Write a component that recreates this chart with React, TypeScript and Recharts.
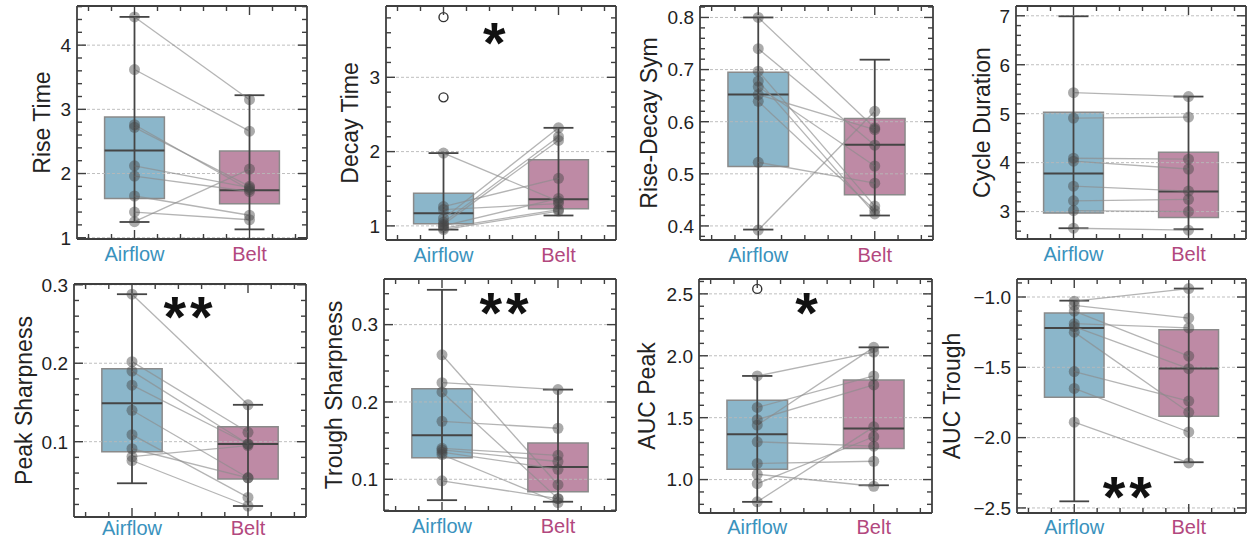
import React from 'react';
import {
  ComposedChart,
  Line,
  XAxis,
  YAxis,
  ReferenceLine,
  ReferenceArea,
  ReferenceDot,
} from 'recharts';

const FONT = '"Liberation Sans", Arial, Helvetica, sans-serif';
const AIR_TEXT = '#3a92bd';
const BELT_TEXT = '#b2487e';
const AIR_FILL = '#5a97b4';
const BELT_FILL = '#a3587f';
const FRAME = '#3f3f3f';

const groups = ['Airflow', 'Belt'];
const groupX = [0, 1];
const xTicks = [-0.4, -0.2, 0, 0.2, 0.4, 0.6, 0.8, 1, 1.2, 1.4];

// box stats: [whiskerLow, q1, median, q3, whiskerHigh]
const riseAirflow = [4.44, 3.62, 2.76, 2.72, 2.12, 1.96, 1.65, 1.4, 1.25];
const riseBelt = [3.15, 2.66, 1.75, 1.8, 1.78, 1.72, 1.35, 1.28, 2.07];
const riseAirflowBox = [1.245, 1.61, 2.36, 2.88, 4.44];
const riseBeltBox = [1.13, 1.53, 1.74, 2.35, 3.22];

const decayAirflow = [1.98, 1.26, 1.22, 1.1, 1.05, 1.02, 1.0, 0.97, 0.95];
const decayBelt = [1.33, 1.64, 1.3, 2.32, 2.2, 2.15, 1.37, 1.22, 1.2];
const decayAirflowBox = [0.95, 1.03, 1.17, 1.44, 1.98];
const decayBeltBox = [1.14, 1.23, 1.36, 1.89, 2.32];
const decayOutliers = [3.81, 2.73];

const symAirflow = [0.8, 0.74, 0.697, 0.678, 0.667, 0.652, 0.639, 0.522, 0.392];
const symBelt = [0.588, 0.555, 0.438, 0.423, 0.515, 0.585, 0.43, 0.482, 0.62];
const symAirflowBox = [0.393, 0.514, 0.652, 0.695, 0.8];
const symBeltBox = [0.42, 0.46, 0.556, 0.606, 0.719];

const cycleAirflow = [5.43, 4.91, 4.09, 4.03, 3.52, 3.22, 3.02, 2.66];
const cycleBelt = [5.35, 4.93, 4.07, 3.87, 3.42, 3.25, 3.0, 2.62];
const cycleAirflowBox = [2.66, 2.97, 3.78, 5.03, 6.99];
const cycleBeltBox = [2.64, 2.88, 3.41, 4.21, 5.35];

const peakAirflow = [0.288, 0.202, 0.19, 0.172, 0.14, 0.109, 0.091, 0.081, 0.076];
const peakBelt = [0.147, 0.112, 0.097, 0.097, 0.054, 0.029, 0.054, 0.095, 0.018];
const peakAirflowBox = [0.047, 0.0872, 0.149, 0.193, 0.288];
const peakBeltBox = [0.018, 0.0524, 0.097, 0.119, 0.147];

const troughAirflow = [0.261, 0.225, 0.213, 0.175, 0.14, 0.138, 0.135, 0.132, 0.098];
const troughBelt = [0.093, 0.216, 0.075, 0.166, 0.131, 0.123, 0.113, 0.07, 0.075];
const troughAirflowBox = [0.073, 0.128, 0.157, 0.217, 0.345];
const troughBeltBox = [0.071, 0.084, 0.116, 0.147, 0.216];

const aucPeakAirflow = [1.837, 1.583, 1.484, 1.44, 1.305, 1.13, 1.043, 0.967, 0.82];
const aucPeakBelt = [2.03, 1.837, 1.764, 2.068, 1.27, 1.148, 0.946, 1.346, 1.426];
const aucPeakAirflowBox = [0.82, 1.083, 1.367, 1.64, 1.837];
const aucPeakBeltBox = [0.954, 1.251, 1.413, 1.805, 2.068];
const aucPeakOutliers = [2.54];

const aucTroughAirflow = [-1.03, -1.06, -1.1, -1.19, -1.21, -1.25, -1.53, -1.65, -1.89];
const aucTroughBelt = [-0.94, -1.15, -1.42, -1.22, -1.51, -1.82, -1.74, -1.96, -2.18];
const aucTroughAirflowBox = [-2.453, -1.713, -1.221, -1.114, -1.026];
const aucTroughBeltBox = [-2.175, -1.848, -1.509, -1.233, -0.94];

type Cfg = {
  label: string;
  airflow: number[];
  belt: number[];
  airBox: number[];
  beltBox: number[];
  outliers: number[];
  domain: [number, number];
  major: number;
  minor: number;
  dec: number;
  frame: { l: number; t: number; r: number; b: number };
  yW: number;
  labelGap: number;
  xLabelGap: number;
  star?: { text: string; x: number; y: number };
};

const panels: Cfg[] = [
  { label: 'Rise Time', airflow: riseAirflow, belt: riseBelt, airBox: riseAirflowBox, beltBox: riseBeltBox, outliers: [], domain: [0.98, 4.61], major: 1, minor: 0.2, dec: 0, frame: { l: 77, t: 6, r: 307, b: 239 }, yW: 77, labelGap: 27, xLabelGap: 22 },
  { label: 'Decay Time', airflow: decayAirflow, belt: decayBelt, airBox: decayAirflowBox, beltBox: decayBeltBox, outliers: decayOutliers, domain: [0.81, 3.96], major: 1, minor: 0.2, dec: 0, frame: { l: 386, t: 6, r: 616, b: 240 }, yW: 85, labelGap: 28, xLabelGap: 22, star: { text: '*', x: 0.46, y: 3.6 } },
  { label: 'Rise-Decay Sym', airflow: symAirflow, belt: symBelt, airBox: symAirflowBox, beltBox: symBeltBox, outliers: [], domain: [0.373, 0.822], major: 0.1, minor: 0.02, dec: 1, frame: { l: 700, t: 6, r: 933, b: 240 }, yW: 85, labelGap: 43, xLabelGap: 22 },
  { label: 'Cycle Duration', airflow: cycleAirflow, belt: cycleBelt, airBox: cycleAirflowBox, beltBox: cycleBeltBox, outliers: [], domain: [2.44, 7.2], major: 1, minor: 0.2, dec: 0, frame: { l: 1016, t: 6, r: 1246, b: 239 }, yW: 85, labelGap: 26, xLabelGap: 22 },
  { label: 'Peak Sharpness', airflow: peakAirflow, belt: peakBelt, airBox: peakAirflowBox, beltBox: peakBeltBox, outliers: [], domain: [0.004, 0.301], major: 0.1, minor: 0.02, dec: 1, frame: { l: 74, t: 284, r: 306, b: 517 }, yW: 74, labelGap: 42, xLabelGap: 18, star: { text: '**', x: 0.5, y: 0.272 } },
  { label: 'Trough Sharpness', airflow: troughAirflow, belt: troughBelt, airBox: troughAirflowBox, beltBox: troughBeltBox, outliers: [], domain: [0.059, 0.359], major: 0.1, minor: 0.02, dec: 1, frame: { l: 384, t: 279, r: 616, b: 511 }, yW: 85, labelGap: 42, xLabelGap: 22, star: { text: '**', x: 0.552, y: 0.328 } },
  { label: 'AUC Peak', airflow: aucPeakAirflow, belt: aucPeakBelt, airBox: aucPeakAirflowBox, beltBox: aucPeakBeltBox, outliers: aucPeakOutliers, domain: [0.73, 2.62], major: 0.5, minor: 0.1, dec: 1, frame: { l: 699, t: 279, r: 932, b: 513 }, yW: 85, labelGap: 44, xLabelGap: 21, star: { text: '*', x: 0.44, y: 2.428 } },
  { label: 'AUC Trough', airflow: aucTroughAirflow, belt: aucTroughBelt, airBox: aucTroughAirflowBox, beltBox: aucTroughBeltBox, outliers: [], domain: [-2.536, -0.872], major: 0.5, minor: 0.1, dec: 1, frame: { l: 1017, t: 279, r: 1246, b: 513 }, yW: 85, labelGap: 57, xLabelGap: 21, star: { text: '**', x: 0.48, y: -2.349 } },
];

function makeTicks(domain: [number, number], step: number): number[] {
  const out: number[] = [];
  let k = Math.ceil(domain[0] / step - 1e-9);
  while (k * step <= domain[1] + 1e-9) {
    out.push(Math.round(k * step * 10000) / 10000);
    k++;
  }
  return out;
}

function isMajor(v: number, major: number) {
  const r = v / major;
  return Math.abs(r - Math.round(r)) < 1e-6;
}

function fmt(v: number, dec: number) {
  const s = Math.abs(v).toFixed(dec);
  return v < 0 ? '\u2212' + s : s;
}

const HALF_BOX = 0.26;
const HALF_CAP = 0.13;
const WHISK = '#454545';
const TOP = 14;

function Panel({ cfg }: { cfg: Cfg }) {
  const { frame, yW } = cfg;
  const fw = frame.r - frame.l;
  const fh = frame.b - frame.t;
  const W = yW + fw + 5;
  const H = TOP + 1 + fh + 34;
  const data = groupX.map((x, gi) => {
    const row: any = { x };
    const vals = gi === 0 ? cfg.airflow : cfg.belt;
    vals.forEach((v, i) => {
      row['s' + i] = v;
    });
    return row;
  });
  const yTicks = makeTicks(cfg.domain, cfg.minor);
  const majors = yTicks.filter((v) => isMajor(v, cfg.major));

  const yTickLeft = (p: any) => {
    const v = p.payload.value;
    const mj = isMajor(v, cfg.major);
    return (
      <g>
        <line x1={p.x} x2={p.x + (mj ? 9 : 5)} y1={p.y} y2={p.y} stroke={FRAME} strokeWidth={1.4} />
        {mj && (
          <text x={p.x - 6} y={p.y} dy="0.36em" textAnchor="end" fontSize={19} fontFamily={FONT} fill="#222">
            {fmt(v, cfg.dec)}
          </text>
        )}
      </g>
    );
  };
  const yTickRight = (p: any) => {
    const v = p.payload.value;
    const mj = isMajor(v, cfg.major);
    return <line x1={p.x} x2={p.x - (mj ? 9 : 5)} y1={p.y} y2={p.y} stroke={FRAME} strokeWidth={1.4} />;
  };
  const xTickBottom = (p: any) => {
    const v = p.payload.value;
    const mj = v === 0 || v === 1;
    return (
      <g>
        <line x1={p.x} x2={p.x} y1={p.y} y2={p.y - (mj ? 9 : 5)} stroke={FRAME} strokeWidth={1.4} />
        {mj && (
          <text x={p.x} y={p.y + cfg.xLabelGap} textAnchor="middle" fontSize={20} fontFamily={FONT} fill={v === 0 ? AIR_TEXT : BELT_TEXT}>
            {groups[v]}
          </text>
        )}
      </g>
    );
  };
  const xTickTop = (p: any) => {
    const v = p.payload.value;
    const mj = v === 0 || v === 1;
    return <line x1={p.x} x2={p.x} y1={p.y} y2={p.y + (mj ? 9 : 5)} stroke={FRAME} strokeWidth={1.4} />;
  };
  const yLabel = (lp: any) => {
    const vb = lp.viewBox || {};
    const cx = vb.x + vb.width - cfg.labelGap;
    const cy = vb.y + vb.height / 2;
    return (
      <text x={cx} y={cy} transform={`rotate(-90 ${cx} ${cy})`} textAnchor="middle" fontSize={23} fontFamily={FONT} fill="#222">
        {cfg.label}
      </text>
    );
  };
  const axisLine = { stroke: FRAME, strokeWidth: 1.8 };

  const boxes = [
    { x: 0, s: cfg.airBox, fill: AIR_FILL },
    { x: 1, s: cfg.beltBox, fill: BELT_FILL },
  ];

  return (
    <div style={{ position: 'absolute', left: frame.l - yW, top: frame.t - TOP - 1 }}>
      <ComposedChart width={W} height={H} data={data} margin={{ top: TOP, right: 4, bottom: 0, left: 0 }}>
        <XAxis
          type="number"
          dataKey="x"
          domain={[-0.5, 1.5]}
          allowDataOverflow
          ticks={xTicks}
          interval={0}
          tickSize={0}
          tickMargin={0}
          tickLine={false}
          axisLine={axisLine}
          height={34}
          tick={xTickBottom}
        />
        <XAxis
          xAxisId="top"
          orientation="top"
          type="number"
          dataKey="x"
          domain={[-0.5, 1.5]}
          allowDataOverflow
          ticks={xTicks}
          interval={0}
          tickSize={0}
          tickMargin={0}
          tickLine={false}
          axisLine={axisLine}
          height={1}
          tick={xTickTop}
        />
        <YAxis
          type="number"
          domain={cfg.domain}
          allowDataOverflow
          ticks={yTicks}
          interval={0}
          tickSize={0}
          tickMargin={0}
          tickLine={false}
          axisLine={axisLine}
          width={yW}
          tick={yTickLeft}
          label={yLabel}
        />
        <YAxis
          yAxisId="right"
          orientation="right"
          type="number"
          domain={cfg.domain}
          allowDataOverflow
          ticks={yTicks}
          interval={0}
          tickSize={0}
          tickMargin={0}
          tickLine={false}
          axisLine={axisLine}
          width={1}
          tick={yTickRight}
        />
        {majors.map((v) => (
          <ReferenceLine key={'g' + v} y={v} stroke="#b8b8b8" strokeWidth={0.9} strokeDasharray="3 2" />
        ))}
        {boxes.map((b) => (
          <ReferenceLine
            key={'w' + b.x}
            segment={[
              { x: b.x, y: b.s[0] },
              { x: b.x, y: b.s[4] },
            ]}
            stroke={WHISK}
            strokeWidth={1.8}
          />
        ))}
        {boxes.map((b) => (
          <ReferenceArea
            key={'b' + b.x}
            x1={b.x - HALF_BOX}
            x2={b.x + HALF_BOX}
            y1={b.s[1]}
            y2={b.s[3]}
            fill={b.fill}
            fillOpacity={0.7}
            stroke="#8a8a8a"
            strokeWidth={1.5}
          />
        ))}
        {boxes.map((b) => (
          <ReferenceLine
            key={'m' + b.x}
            segment={[
              { x: b.x - HALF_BOX, y: b.s[2] },
              { x: b.x + HALF_BOX, y: b.s[2] },
            ]}
            stroke={WHISK}
            strokeWidth={2}
          />
        ))}
        {boxes.map((b) => (
          <ReferenceLine
            key={'cl' + b.x}
            segment={[
              { x: b.x - HALF_CAP, y: b.s[0] },
              { x: b.x + HALF_CAP, y: b.s[0] },
            ]}
            stroke={WHISK}
            strokeWidth={1.8}
          />
        ))}
        {boxes.map((b) => (
          <ReferenceLine
            key={'ch' + b.x}
            segment={[
              { x: b.x - HALF_CAP, y: b.s[4] },
              { x: b.x + HALF_CAP, y: b.s[4] },
            ]}
            stroke={WHISK}
            strokeWidth={1.8}
          />
        ))}
        {cfg.airflow.map((_, i) => (
          <Line
            key={'s' + i}
            dataKey={'s' + i}
            type="linear"
            stroke="#8c8c8c"
            strokeOpacity={0.65}
            strokeWidth={1.3}
            dot={{ r: 5.5, fill: '#444', fillOpacity: 0.45, stroke: 'none' }}
            activeDot={false}
            isAnimationActive={false}
          />
        ))}
        {cfg.outliers.map((v, i) => (
          <ReferenceDot key={'o' + i} x={0} y={v} r={4.5} fill="#fff" stroke="#333" strokeWidth={1.4} />
        ))}
        {cfg.star && (
          <ReferenceDot
            x={cfg.star.x}
            y={cfg.star.y}
            r={1}
            shape={(p: any) => (
              <text
                x={p.cx}
                y={p.cy + 30}
                textAnchor="middle"
                fontSize={58}
                fontWeight="bold"
                letterSpacing={4}
                fontFamily={FONT}
                fill="#111"
              >
                {cfg.star!.text}
              </text>
            )}
          />
        )}
      </ComposedChart>
    </div>
  );
}

export default function App() {
  return (
    <div
      style={{
        position: 'absolute',
        left: 0,
        top: 0,
        width: 1250,
        height: 541,
        overflow: 'hidden',
        background: '#fff',
      }}
    >
      {panels.map((cfg) => (
        <Panel key={cfg.label} cfg={cfg} />
      ))}
    </div>
  );
}
